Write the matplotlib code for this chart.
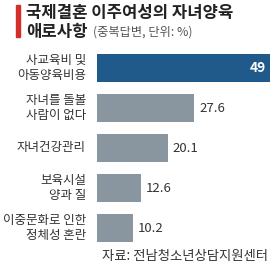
import matplotlib.pyplot as plt

plt.rcParams['font.family'] = ['Noto Sans CJK KR', 'DejaVu Sans']

categories = ['사교육비 및\n아동양육비용', '자녀를 돌볼\n사람이 없다', '자녀건강관리',
              '보육시설\n양과 질', '이중문화로 인한\n정체성 혼란']
values = [49, 27.6, 20.1, 12.6, 10.2]
value_labels = ['49', '27.6', '20.1', '12.6', '10.2']
colors = ['#1f5a8b', '#8a969f', '#8a969f', '#8a969f', '#8a969f']

W, H = 270, 267
fig = plt.figure(figsize=(W / 100, H / 100), dpi=100)
fig.patch.set_facecolor('white')

ax = fig.add_axes([97 / W, 1 - 248 / H, 173 / W, 200 / H])
ypos = range(len(values))
ax.barh(ypos, values, height=0.72, color=colors)
ax.set_xlim(0, 49)
ax.set_ylim(4.5, -0.5)
ax.axis('off')

for i, (v, lab) in enumerate(zip(values, value_labels)):
    if i == 0:
        ax.text(v - 1.2, i, lab, ha='right', va='center', color='white',
                fontsize=10, fontweight='bold')
    else:
        ax.text(v + 1.3, i, lab, ha='left', va='center', color='#333333', fontsize=9.5)
    ax.annotate(categories[i], xy=(0, i), xycoords='data', xytext=(-8, 0),
                textcoords='offset points', ha='right', va='center',
                fontsize=9, color='#333333', linespacing=1.25)

# title block
fig.patches.append(plt.Rectangle((16 / W, 1 - 37 / H), 4 / W, 32 / H,
                                 transform=fig.transFigure, color='#d42e2a'))
fig.text(26 / W, 1 - 13 / H, '국제결혼 이주여성의 자녀양육', ha='left', va='center',
         fontsize=12, fontweight='bold', color='#222222')
fig.text(26 / W, 1 - 32 / H, '애로사항', ha='left', va='center',
         fontsize=12, fontweight='bold', color='#222222')
fig.text(93 / W, 1 - 32 / H, '(중복답변, 단위: %)', ha='left', va='center',
         fontsize=8.8, color='#555555')

fig.text(268 / W, 1 - 256 / H, '자료: 전남청소년상담지원센터', ha='right', va='center',
         fontsize=9.6, color='#333333')

fig.savefig('out.png', dpi=100)
